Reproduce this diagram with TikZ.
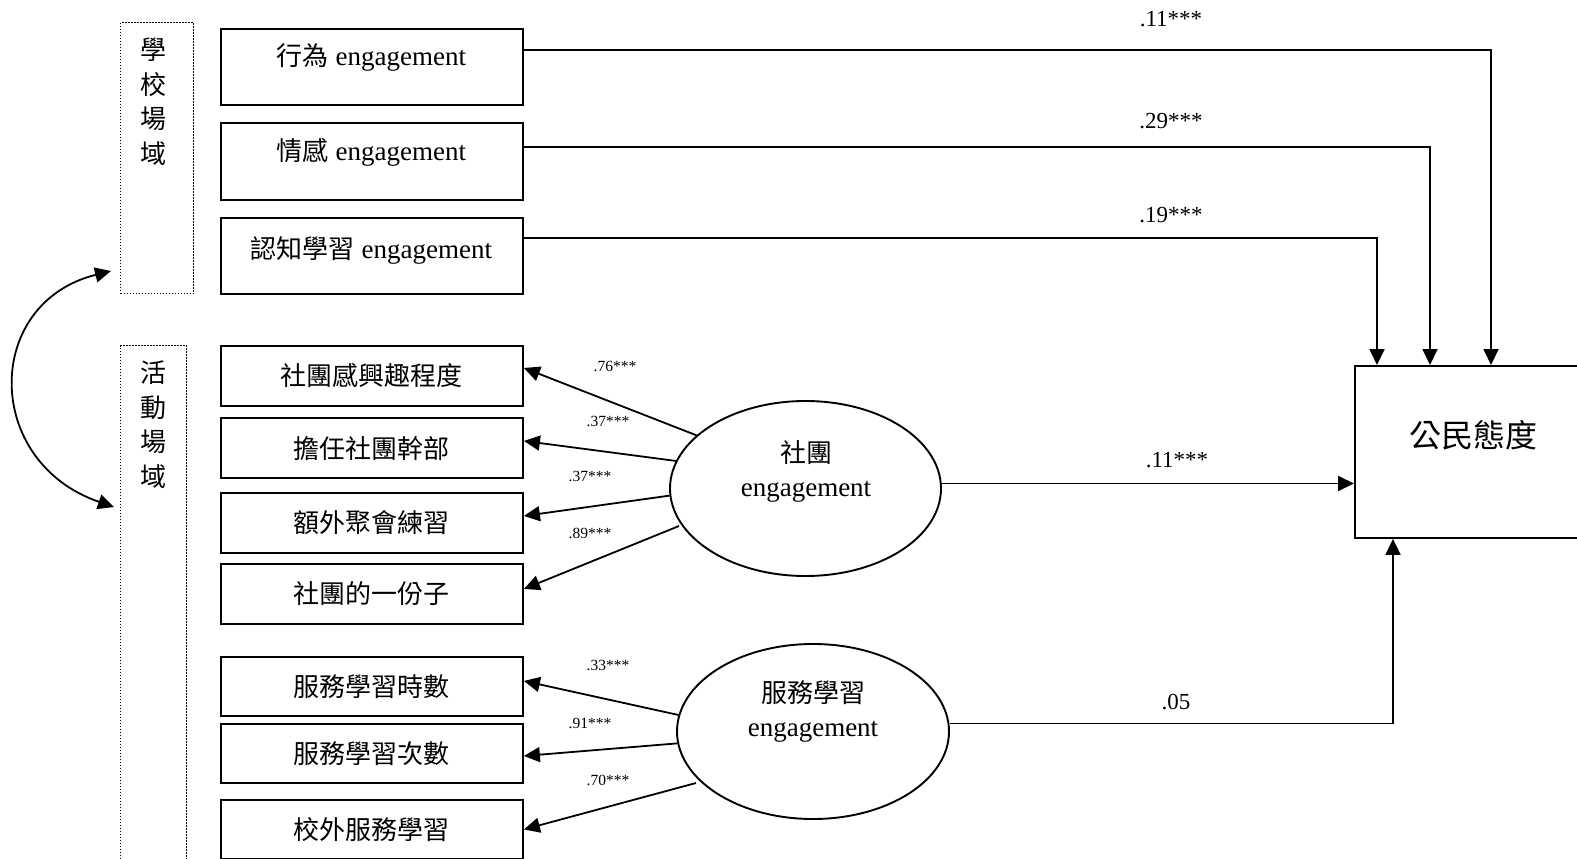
\documentclass[tikz,border=0pt]{standalone}
\usepackage{fontspec}
\setmainfont{Liberation Serif}
\newfontfamily\cjk{Noto Sans CJK TC}
\usetikzlibrary{arrows.meta,calc,shapes.geometric}
\newcommand\zh[1]{{\cjk\fontsize{26}{30}\selectfont #1}}
\begin{document}
\begin{tikzpicture}[x=1pt,y=-1pt,
  box/.style={draw,line width=1.9pt,minimum width=302pt,inner sep=0pt,anchor=north west,
    font=\fontsize{27}{30}\selectfont},
  dotbox/.style={draw,line width=1.3pt,dash pattern=on 1.5pt off 1.5pt,anchor=north west,inner sep=0pt},
  lat/.style={draw,ellipse,line width=1.9pt,inner sep=0pt},
  txt/.style={inner sep=0pt,font=\fontsize{27}{34}\selectfont,align=center},
  vtxt/.style={inner sep=0pt,font=\cjk\fontsize{26}{34.5}\selectfont,align=center,anchor=north},
  big/.style={inner sep=0pt,font=\fontsize{23}{26}\selectfont},
  small/.style={inner sep=0pt,font=\fontsize{15.5}{18}\selectfont},
  arr/.style={line width=1.8pt,-{Triangle[length=16pt,width=15pt]}},
  darr/.style={line width=1.8pt,{Triangle[length=16pt,width=15pt]}-{Triangle[length=16pt,width=15pt]}}]
\useasboundingbox (0,0) rectangle (1577,859);
\clip (0,0) rectangle (1577,859);
% dotted group boxes
\node[dotbox,minimum width=73pt,minimum height=271pt] (d1) at (120,22) {};
\node[dotbox,minimum width=66pt,minimum height=520pt] (d2) at (120,345) {};
\node[vtxt] (t1) at (153,38) {學\\校\\場\\域};
\node[vtxt] (t2) at (153,361) {活\\動\\場\\域};
% school boxes
\node[box,minimum height=76pt] (b1) at (220,28) {};
\node[box,minimum height=77pt] (b2) at (220,122) {};
\node[box,minimum height=76pt] (b3) at (220,217) {};
\node[txt] (x1) at (371.5,57) {\zh{行為} engagement};
\node[txt] (x2) at (371.5,152) {\zh{情感} engagement};
\node[txt] (x3) at (371.5,250) {\zh{認知學習} engagement};
% activity boxes
\node[box,minimum height=60pt] (b4) at (220,345) {\zh{社團感興趣程度}};
\node[box,minimum height=60pt] (b5) at (220,417) {\zh{擔任社團幹部}};
\node[box,minimum height=60pt] (b6) at (220,492) {\zh{額外聚會練習}};
\node[box,minimum height=60pt] (b7) at (220,563) {\zh{社團的一份子}};
\node[box,minimum height=59pt] (b8) at (220,656) {\zh{服務學習時數}};
\node[box,minimum height=59pt] (b9) at (220,723) {\zh{服務學習次數}};
\node[box,minimum height=59pt] (b10) at (220,799) {\zh{校外服務學習}};
% latent variables
\node[lat,minimum width=271pt,minimum height=175pt] (e1) at (805.5,488.5) {};
\node[lat,minimum width=272pt,minimum height=175pt] (e2) at (813,731.5) {};
\node[txt] (y1) at (806,471) {\zh{社團}\\engagement};
\node[txt] (y2) at (813,711) {\zh{服務學習}\\engagement};
% outcome
\node[draw,line width=1.9pt,anchor=north west,minimum width=260pt,minimum height=172pt,inner sep=0pt] (cz) at (1354,365) {};
\node[inner sep=0pt,font=\cjk\fontsize{32}{34}\selectfont] (czt) at (1473,435) {公民態度};
% curved correlation
\coordinate (c1) at (111,271);
\coordinate (c2) at (114,507);
\draw[darr] (c1) .. controls (-17,303) and (-17,462) .. (c2);
% paths to outcome
\draw[arr] ([yshift=17pt]b1.east) -| ([xshift=137pt]cz.north west);
\draw[arr] ([yshift=14.5pt]b2.east) -| ([xshift=76pt]cz.north west);
\draw[arr] ([yshift=18pt]b3.east) -| ([xshift=23pt]cz.north west);
\coordinate (o1) at ([yshift=5pt]e1.east);
\draw[arr] (o1) -- (o1 -| cz.west);
\coordinate (o2) at ([yshift=8pt]e2.east);
\draw[arr] (o2) -| ([xshift=39pt]cz.south west);
% loadings
\coordinate (s4) at (679,526);
\coordinate (s10) at (696,783);
\draw[arr] (e1.154.9) -- ([yshift=8pt]b4.east);
\draw[arr] (e1.168.4) -- ([yshift=7pt]b5.east);
\draw[arr] (e1.183.8) -- ([yshift=7pt]b6.east);
\draw[arr] (s4) -- ([yshift=5pt]b7.east);
\draw[arr] (e2.173.3) -- ([yshift=5.5pt]b8.east);
\draw[arr] (e2.185.5) -- ([yshift=-2.5pt]b9.east);
\draw[arr] (s10) -- ([yshift=0pt]b10.east);
% labels
\node[big] (k1) at (1171,19) {.11***};
\node[big] (k2) at (1171,121) {.29***};
\node[big] (k3) at (1171,215) {.19***};
\node[big] (k4) at (1177,460) {.11***};
\node[big] (k5) at (1176,702) {.05};
\node[small] (m1) at (615,366) {.76***};
\node[small] (m2) at (608,421) {.37***};
\node[small] (m3) at (590,476) {.37***};
\node[small] (m4) at (590,533) {.89***};
\node[small] (m5) at (608,665) {.33***};
\node[small] (m6) at (590,723) {.91***};
\node[small] (m7) at (608,780) {.70***};
\end{tikzpicture}
\end{document}
